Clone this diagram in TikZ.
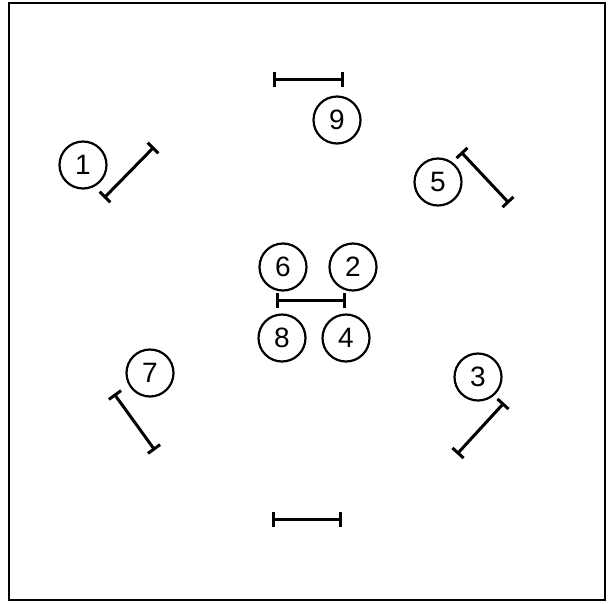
\documentclass[tikz,border=0pt]{standalone}
\usepackage{fontspec}
\setmainfont{Liberation Sans}
\usetikzlibrary{arrows.meta}
\begin{document}
\begin{tikzpicture}[x=1pt,y=-1pt,
  num/.style={circle,draw,line width=2.2pt,minimum size=47pt,inner sep=0pt,font=\fontsize{28}{30}\selectfont},
  bar/.style={line width=3pt,{Bar[width=15pt,line width=3pt]}-{Bar[width=15pt,line width=3pt]}, shorten <=-1.5pt, shorten >=-1.5pt}]
\useasboundingbox (0,0) rectangle (609,603);
\draw[line width=2pt] (9,3) rectangle (605,600);
\node[num] (n1) at (83,165) {1};
\node[num] (n9) at (337,120) {9};
\node[num] (n5) at (438,182) {5};
\node[num] (n6) at (283,267) {6};
\node[num] (n2) at (353,267) {2};
\node[num] (n8) at (282,338) {8};
\node[num] (n4) at (346,338) {4};
\node[num] (n7) at (150,373) {7};
\node[num] (n3) at (478,377) {3};
\coordinate (a1) at (105,197); \coordinate (b1) at (153,148);
\coordinate (a9) at (274,79); \coordinate (b9) at (342,79);
\coordinate (a5) at (462,153); \coordinate (b5) at (508,202);
\coordinate (ac) at (277,300); \coordinate (bc) at (344,300);
\coordinate (a7) at (115,395); \coordinate (b7) at (154,449);
\coordinate (a3) at (503,404); \coordinate (b3) at (458,453);
\coordinate (ab) at (273,519); \coordinate (bb) at (340,519);
\draw[bar] (a1) -- (b1);
\draw[bar] (a9) -- (b9);
\draw[bar] (a5) -- (b5);
\draw[bar] (ac) -- (bc);
\draw[bar] (a7) -- (b7);
\draw[bar] (a3) -- (b3);
\draw[bar] (ab) -- (bb);
\end{tikzpicture}
\end{document}
